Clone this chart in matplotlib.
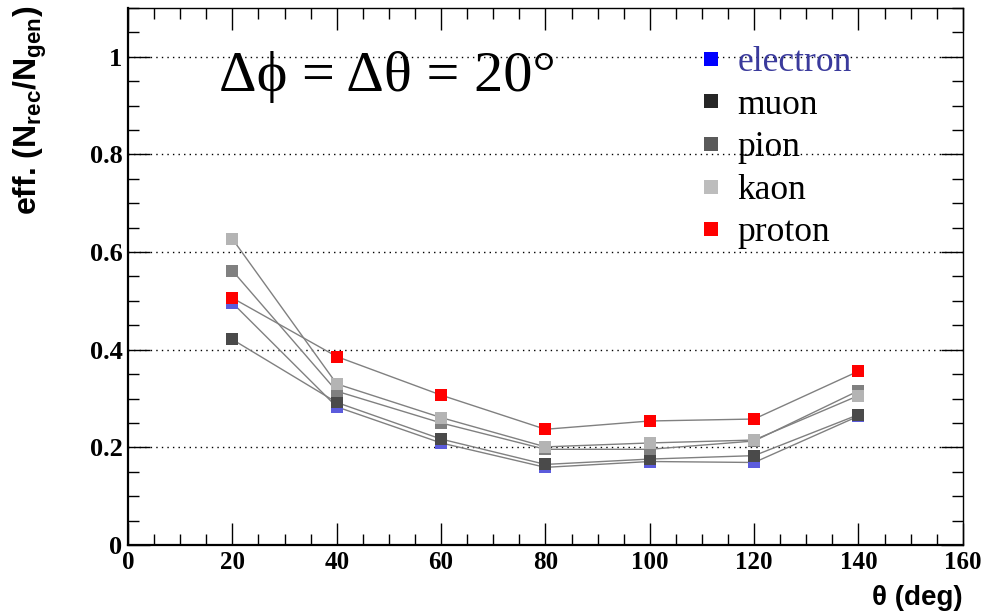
import matplotlib
matplotlib.use("Agg")
import matplotlib.pyplot as plt
from matplotlib.lines import Line2D
from matplotlib.ticker import MultipleLocator

# Reconstruction efficiency vs polar angle for several particle species
theta = [20, 40, 60, 80, 100, 120, 140]
electron = [0.496, 0.283, 0.209, 0.159, 0.171, 0.169, 0.264]
muon = [0.421, 0.292, 0.217, 0.165, 0.176, 0.183, 0.267]
pion = [0.562, 0.315, 0.250, 0.196, 0.196, 0.213, 0.316]
kaon = [0.627, 0.330, 0.261, 0.201, 0.209, 0.215, 0.306]
proton = [0.506, 0.386, 0.307, 0.237, 0.254, 0.258, 0.356]

names = ["electron", "muon", "pion", "kaon", "proton"]
series = [electron, muon, pion, kaon, proton]
marker_colors = ["#5b5bdc", "#4a4a4a", "#808080", "#b4b4b4", "#ff0000"]
legend_colors = ["#0000ff", "#262626", "#5a5a5a", "#bdbdbd", "#ff0000"]
label_colors = ["#3a3a9c", "black", "black", "black", "black"]

plt.rcParams["mathtext.fontset"] = "custom"
plt.rcParams["mathtext.rm"] = "Liberation Sans:bold"
plt.rcParams["mathtext.it"] = "Liberation Sans:bold"
plt.rcParams["mathtext.bf"] = "Liberation Sans:bold"

fig = plt.figure(figsize=(10.04, 6.16), dpi=100)
ax = fig.add_axes([0.1275, 0.1153, 0.8315, 0.8717])

for i, (vals, mc) in enumerate(zip(series, marker_colors)):
    ax.plot(theta, vals, color="#808080", lw=1.0, marker="s", ms=8.8,
            mfc=mc, mec=mc, mew=0, zorder=3 + i)

ax.set_xlim(0, 160)
ax.set_ylim(0, 1.1)
ax.xaxis.set_minor_locator(MultipleLocator(5))
ax.yaxis.set_minor_locator(MultipleLocator(0.05))
ax.tick_params(which="both", direction="in", top=True, right=True, width=1.0)
ax.tick_params(which="major", length=16)
ax.tick_params(which="minor", length=8)
ax.tick_params(axis="both", pad=4)
ax.set_yticks([0, 0.2, 0.4, 0.6, 0.8, 1.0])
ax.set_yticklabels(["0", "0.2", "0.4", "0.6", "0.8", "1"],
                   fontfamily="Liberation Serif", fontweight="bold", fontsize=19)
ax.set_xticks([0, 20, 40, 60, 80, 100, 120, 140, 160])
ax.set_xticklabels(["0", "20", "40", "60", "80", "100", "120", "140", "160"],
                   fontfamily="Liberation Serif", fontweight="bold", fontsize=18)

for sp in ax.spines.values():
    sp.set_linewidth(1.0)
ax.spines["left"].set_linewidth(1.6)
ax.spines["bottom"].set_linewidth(1.6)

ax.grid(axis="y", which="major", color="black", linestyle=(0, (1, 3)), lw=1.0)
ax.set_axisbelow(True)

ax.set_ylabel("eff. (N$_{rec}$/N$_{gen}$)", fontfamily="Liberation Sans",
              fontweight="bold", fontsize=23)
ax.yaxis.set_label_coords(-0.095, 0.81)
ax.set_xlabel("θ (deg)", fontfamily="Liberation Sans",
              fontweight="bold", fontsize=20)
ax.xaxis.set_label_coords(1.0, -0.075)
ax.xaxis.label.set_horizontalalignment("right")

ax.text(17.5, 0.93, "Δϕ = Δθ = 20°", fontfamily=["Liberation Serif", "DejaVu Serif"],
        fontsize=42, va="baseline", ha="left")

handles = [Line2D([], [], ls="none", marker="s", ms=10, mfc=c, mec=c, mew=0)
           for c in legend_colors]
leg = ax.legend(handles, names, loc="upper left", bbox_to_anchor=(0.656, 0.975),
                frameon=False, prop={"family": "Liberation Serif", "size": 25.5},
                handlelength=0.6, handletextpad=0.45, labelspacing=0.27,
                borderaxespad=0.3)
for t, c in zip(leg.get_texts(), label_colors):
    t.set_color(c)

fig.savefig("out.png", dpi=100)
